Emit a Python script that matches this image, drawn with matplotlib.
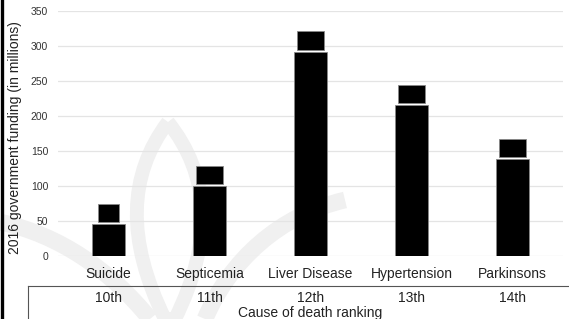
import matplotlib
matplotlib.use("Agg")
import matplotlib.pyplot as plt
from matplotlib.lines import Line2D
from matplotlib.path import Path
from matplotlib.patches import PathPatch
import matplotlib.transforms as mtransforms

plt.rcParams['font.family'] = ['Liberation Sans', 'DejaVu Sans']

causes = ['Suicide', 'Septicemia', 'Liver Disease', 'Hypertension', 'Parkinsons']
rankings = ['10th', '11th', '12th', '13th', '14th']
funding_body = [46, 100, 292, 216, 139]   # main part of each bar
funding_top = [74, 128, 321, 244, 167]    # top of the "cap" block
cap_widths = [0.2, 0.27, 0.27, 0.27, 0.27]

W, H = 569, 319
fig = plt.figure(figsize=(W / 100, H / 100), dpi=100)

# light watermark (lotus) in the background, pixel coords -> figure fraction
def px(x, y):
    return (x / W, 1 - y / H)

wm = '#f0f0f0'
petal = [(168, 122), (128, 175), (126, 240), (165, 319),
         (175, 319), (214, 240), (210, 175), (168, 122)]
codes = [Path.MOVETO, Path.CURVE4, Path.CURVE4, Path.CURVE4,
         Path.LINETO, Path.CURVE4, Path.CURVE4, Path.CURVE4]
fig.add_artist(PathPatch(Path([px(*p) for p in petal], codes), transform=fig.transFigure,
                         facecolor='none', edgecolor=wm, lw=10, zorder=0))
left_leaf = [(0, 222), (60, 235), (110, 270), (150, 319)]
right_leaf = [(345, 200), (280, 215), (230, 260), (205, 319)]
for leaf in (left_leaf, right_leaf):
    fig.add_artist(PathPatch(Path([px(*p) for p in leaf],
                                  [Path.MOVETO, Path.CURVE4, Path.CURVE4, Path.CURVE4]),
                             transform=fig.transFigure, facecolor='none',
                             edgecolor=wm, lw=12, zorder=0))

ax = fig.add_axes([58 / W, 1 - 256 / H, 505 / W, 245 / H])
ax.patch.set_alpha(0)

x = list(range(len(causes)))
gap = 3
ax.bar(x, funding_body, width=0.317, color='black', edgecolor='#888888', linewidth=0.6, zorder=3)
ax.bar(x, [t - b - gap for t, b in zip(funding_top, funding_body)],
       bottom=[b + gap for b in funding_body], width=cap_widths,
       color='black', edgecolor='#888888', linewidth=0.6, zorder=3)

ax.set_xlim(-0.5, len(causes) - 0.5)
ax.set_ylim(0, 350)
ax.set_yticks(range(0, 351, 50))
ax.yaxis.grid(True, color='#e4e4e4', linewidth=0.9)
ax.set_axisbelow(True)
for s in ax.spines.values():
    s.set_visible(False)
ax.tick_params(axis='y', length=0, pad=7, labelsize=7.5, labelcolor='#333333')
ax.set_xticks(x)
ax.set_xticklabels(causes, fontsize=10, color='#222222')
ax.tick_params(axis='x', length=0, pad=8)

trans = mtransforms.blended_transform_factory(ax.transData, fig.transFigure)
for xi, r in zip(x, rankings):
    ax.text(xi, 1 - 298 / H, r, transform=trans, ha='center', va='center',
            fontsize=10, color='#222222')
fig.text((58 + 505 / 2) / W, 1 - 313 / H, 'Cause of death ranking', ha='center',
         va='center', fontsize=10, color='#222222')

fig.text(15 / W, 1 - 138 / H, '2016 government funding (in millions)', rotation=90,
         ha='center', va='center', fontsize=10, color='#222222')

# frame pieces around the bottom label area and left edge
fig.add_artist(Line2D([28 / W, 1], [1 - 286 / H] * 2, transform=fig.transFigure,
                      color='#555555', lw=0.8))
fig.add_artist(Line2D([28 / W] * 2, [0, 1 - 286 / H], transform=fig.transFigure,
                      color='#555555', lw=0.8))
fig.add_artist(Line2D([1.5 / W] * 2, [0, 1], transform=fig.transFigure,
                      color='black', lw=2.4))

fig.savefig('out.png', dpi=100)
